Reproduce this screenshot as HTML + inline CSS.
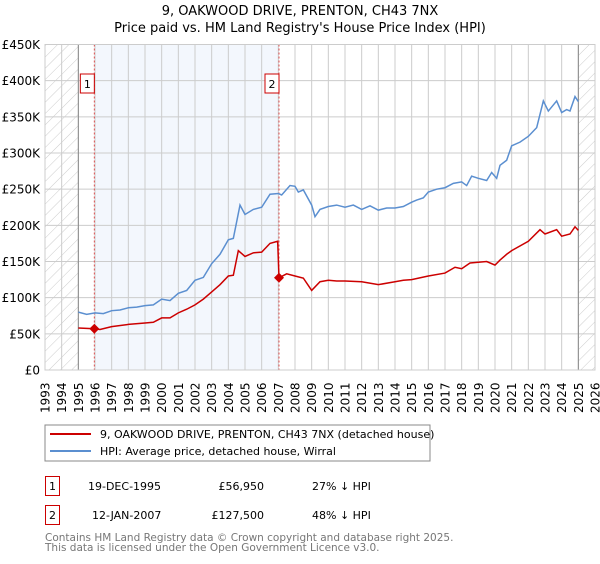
<!DOCTYPE html>
<html><head><meta charset="utf-8"><style>
body{margin:0;background:#fff;width:600px;height:560px;overflow:hidden;font-family:"DejaVu Sans","Liberation Sans",sans-serif;}
svg text{font-family:"DejaVu Sans","Liberation Sans",sans-serif;}
</style></head><body>
<svg id="c" width="600" height="560" xmlns="http://www.w3.org/2000/svg">
<defs><pattern id="hatch" width="8" height="8" patternUnits="userSpaceOnUse" patternTransform="rotate(45)"><line x1="0" y1="0" x2="0" y2="8" stroke="#ccc" stroke-width="1"/></pattern></defs>
<text x="300" y="15" text-anchor="middle" font-size="13">9, OAKWOOD DRIVE, PRENTON, CH43 7NX</text>
<text x="300" y="32" text-anchor="middle" font-size="13">Price paid vs. HM Land Registry's House Price Index (HPI)</text>
<g id="plot"></g>
<rect x="45" y="425" width="385" height="36" fill="#fff" stroke="#888"/>
<line x1="50" y1="434" x2="91" y2="434" stroke="#cc0000" stroke-width="2"/>
<text x="100" y="438" font-size="11">9, OAKWOOD DRIVE, PRENTON, CH43 7NX (detached house)</text>
<line x1="50" y1="451" x2="91" y2="451" stroke="#5b8fd0" stroke-width="2"/>
<text x="100" y="455" font-size="11">HPI: Average price, detached house, Wirral</text>
<g font-size="11">
<rect x="45.5" y="476.5" width="14" height="19" fill="none" stroke="#cc0000"/>
<text x="52.5" y="490" text-anchor="middle">1</text>
<text x="88" y="490">19-DEC-1995</text>
<text x="264" y="490" text-anchor="end">£56,950</text>
<text x="312" y="490">27% ↓ HPI</text>
</g>
<g font-size="11">
<rect x="45.5" y="505.5" width="14" height="19" fill="none" stroke="#cc0000"/>
<text x="52.5" y="519" text-anchor="middle">2</text>
<text x="92" y="519">12-JAN-2007</text>
<text x="264" y="519" text-anchor="end">£127,500</text>
<text x="312" y="519">48% ↓ HPI</text>
</g>
<text x="45" y="541" font-size="10.5" fill="#777">Contains HM Land Registry data © Crown copyright and database right 2025.</text>
<text x="45" y="551" font-size="10.5" fill="#777">This data is licensed under the Open Government Licence v3.0.</text>
</svg>
<script>
const hpiYears=[1995,1995.5,1996,1996.5,1997,1997.5,1998,1998.5,1999,1999.5,2000,2000.5,2001,2001.5,2002,2002.5,2003,2003.5,2004,2004.3,2004.7,2005,2005.5,2006,2006.5,2007,2007.2,2007.7,2008,2008.2,2008.5,2009,2009.2,2009.5,2010,2010.5,2011,2011.5,2012,2012.5,2013,2013.5,2014,2014.5,2015,2015.3,2015.7,2016,2016.5,2017,2017.5,2018,2018.3,2018.6,2019,2019.5,2019.8,2020.1,2020.3,2020.7,2021,2021.5,2022,2022.5,2022.9,2023.2,2023.7,2024,2024.3,2024.5,2024.8,2025];
const hpiValues=[80,77,79,78,82,83,86,87,89,90,98,96,106,110,124,128,147,160,180,182,228,215,222,225,243,244,242,255,254,246,249,228,212,222,226,228,225,228,222,227,221,224,224,226,232,235,238,246,250,252,258,260,255,268,265,262,273,265,283,290,310,315,323,335,372,358,372,356,360,358,378,371];
const ppYears=[1995,1995.96,1996.3,1997,1998,1999,1999.5,2000,2000.5,2001,2001.5,2002,2002.5,2003,2003.5,2004,2004.3,2004.6,2005,2005.5,2006,2006.5,2006.96,2007.04,2007.5,2008,2008.5,2009,2009.5,2010,2010.5,2011,2012,2013,2014,2014.5,2015,2016,2017,2017.6,2018,2018.5,2019.5,2020,2020.3,2020.7,2021,2022,2022.7,2023,2023.7,2024,2024.5,2024.8,2025];
const ppValues=[58,56.95,56,60,63,65,66,72,72,79,84,90,98,108,118,130,131,165,157,162,163,175,178,127.5,133,130,127,110,122,124,123,123,122,118,122,124,125,130,134,142,140,148,150,145,152,160,165,178,194,188,194,185,188,198,193];
const yTicks=[0,50,100,150,200,250,300,350,400,450];
const yTickLabels=["£0","£50K","£100K","£150K","£200K","£250K","£300K","£350K","£400K","£450K"];
const xTicks=[1993,1994,1995,1996,1997,1998,1999,2000,2001,2002,2003,2004,2005,2006,2007,2008,2009,2010,2011,2012,2013,2014,2015,2016,2017,2018,2019,2020,2021,2022,2023,2024,2025,2026];
const sales=[[1995.96,56.95,"1"],[2007.04,127.5,"2"]];
const X0=45,X1=595,Y0=370,Y1=44.5;
const x=y=>X0+(y-1993)/33*(X1-X0);
const yv=v=>Y0-v/450*(Y0-Y1);
const NS="http://www.w3.org/2000/svg";
const g=document.getElementById('plot');
function mk(t,a,p){const e=document.createElementNS(NS,t);for(const k in a)e.setAttribute(k,a[k]);(p||g).appendChild(e);return e;}
let e;
e=mk('rect',{x:x(sales[0][0]),y:Y1,width:x(sales[1][0])-x(sales[0][0]),height:Y0-Y1,fill:'#eef3fc',opacity:0.7});


e=mk('rect',{x:X0,y:Y1,width:x(1995)-X0,height:Y0-Y1,fill:'url(#hatch)'});


e=mk('rect',{x:x(2025),y:Y1,width:X1-x(2025),height:Y0-Y1,fill:'url(#hatch)'});


xTicks.forEach(t=>{
 e=mk('line',{x1:x(t),x2:x(t),y1:Y1,y2:Y0,stroke:'#ccc','stroke-width':1});
 
 
 e=mk('text',{x:0,y:0,transform:`translate(${x(t)+4.5},413) rotate(-90)`,'font-size':12});
 e.textContent=t;
 
 
});
yTicks.forEach((t,i)=>{
 e=mk('line',{x1:X0,x2:X1,y1:yv(t),y2:yv(t),stroke:'#ccc','stroke-width':1});
 
 
 e=mk('text',{x:40,y:yv(t)+4.5,'text-anchor':'end','font-size':12});
 e.textContent=yTickLabels[i];
 
 
});
e=mk('line',{x1:x(1995),x2:x(1995),y1:Y1,y2:Y0,stroke:'#888'});


e=mk('line',{x1:x(2025),x2:x(2025),y1:Y1,y2:Y0,stroke:'#888'});


sales.forEach(s=>{
 e=mk('line',{x1:x(s[0]),x2:x(s[0]),y1:Y1,y2:Y0,stroke:'#e05050','stroke-dasharray':'2,2'});
 
 
 e=mk('rect',{x:x(s[0])-14,y:74,width:14,height:19,fill:'#fff',stroke:'#cc0000'});
 
 
 e=mk('text',{x:x(s[0])-7,y:88,'text-anchor':'middle','font-size':11});
 e.textContent=s[2];
 
 
});
e=mk('polyline',{points:hpiYears.map((t,i)=>x(t)+','+yv(hpiValues[i])).join(' '),fill:'none',stroke:'#5b8fd0','stroke-width':1.5});


e=mk('polyline',{points:ppYears.map((t,i)=>x(t)+','+yv(ppValues[i])).join(' '),fill:'none',stroke:'#cc0000','stroke-width':1.5});


sales.forEach(s=>{
 const cx=x(s[0]),cy=yv(s[1]);
 e=mk('polygon',{points:`${cx},${cy-5} ${cx+5},${cy} ${cx},${cy+5} ${cx-5},${cy}`,fill:'#cc0000'});
 
 
});
e=mk('rect',{x:X0,y:Y1,width:X1-X0,height:Y0-Y1,fill:'none',stroke:'#ccc'});


</script>
</body></html>
